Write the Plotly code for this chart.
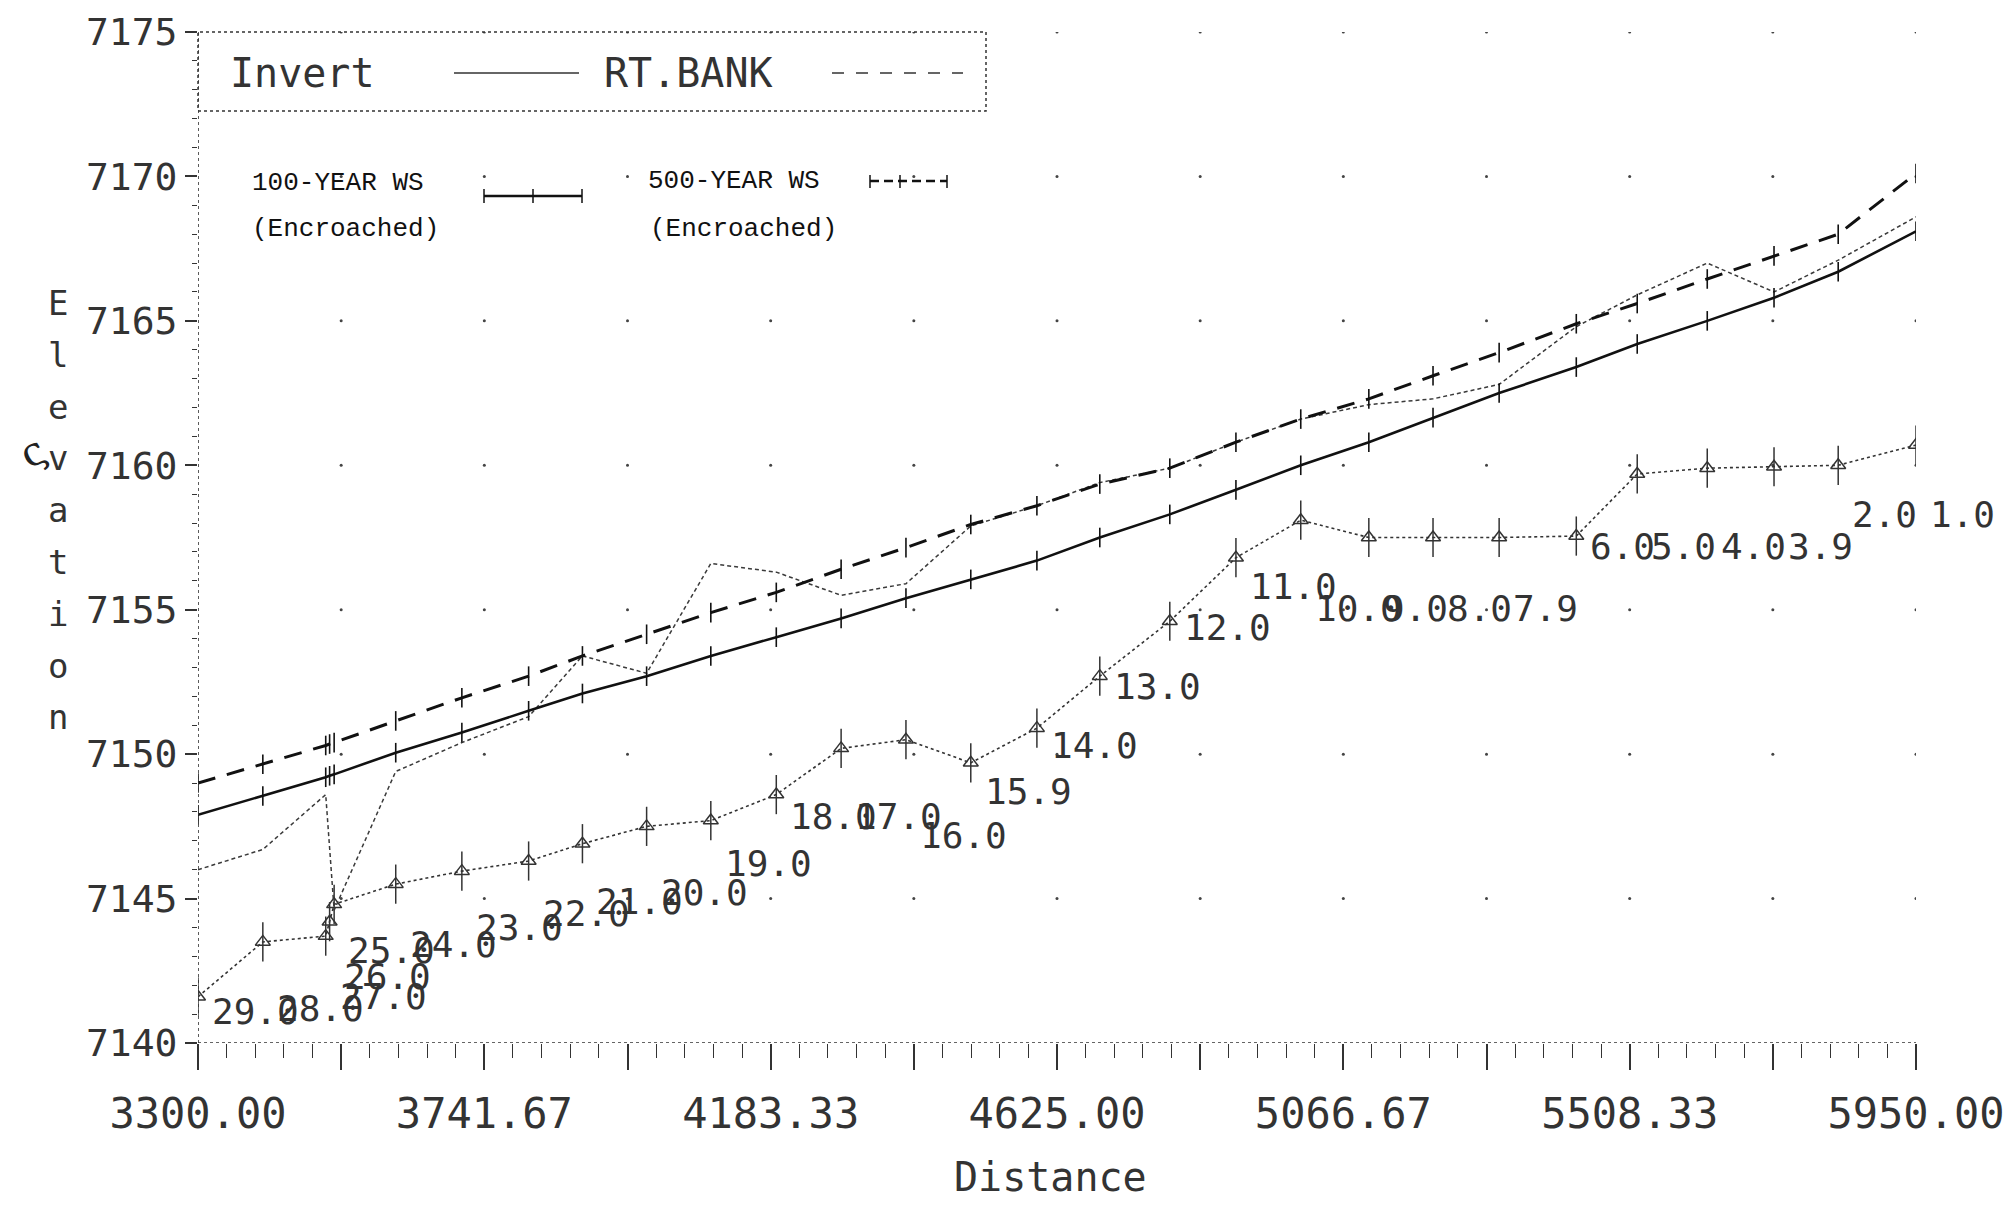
import numpy as np
import plotly.graph_objects as go

# ---- section data (stations in ft, elevations in ft) ----
stations = [3300, 3400, 3497, 3503, 3510, 3605, 3707, 3810, 3893, 3992,
            4091, 4192, 4292, 4392, 4492, 4594, 4691, 4799, 4901, 5001,
            5106, 5205, 5307, 5426, 5520, 5628, 5731, 5830, 5950]
section_ids = ["29.0", "28.0", "27.0", "26.0", "25.0", "24.0", "23.0", "22.0", "21.0", "20.0",
               "19.0", "18.0", "17.0", "16.0", "15.9", "14.0", "13.0", "12.0", "11.0", "10.0",
               "9.0", "8.0", "7.9", "6.0", "5.0", "4.0", "3.9", "2.0", "1.0"]
invert = [7141.6, 7143.5, 7143.7, 7144.2, 7144.8, 7145.5, 7145.95, 7146.3, 7146.9, 7147.5,
          7147.7, 7148.6, 7150.2, 7150.5, 7149.7, 7150.9, 7152.7, 7154.6, 7156.8, 7158.1,
          7157.5, 7157.5, 7157.5, 7157.55, 7159.7, 7159.9, 7159.95, 7160.0, 7160.7]
rt_bank = [7146.0, 7146.7, 7148.6, 7146.6, 7144.6, 7149.4, 7150.4, 7151.3, 7153.4, 7152.8,
           7156.6, 7156.3, 7155.5, 7155.9, 7157.9, 7158.6, 7159.4, 7159.9, 7160.8, 7161.6,
           7162.1, 7162.3, 7162.8, 7164.8, 7165.9, 7167.0, 7166.0, 7167.1, 7168.6]
ws_100yr = [7147.9, 7148.55, 7149.2, 7149.25, 7149.3, 7150.05, 7150.75, 7151.5, 7152.1, 7152.7,
            7153.4, 7154.05, 7154.7, 7155.4, 7156.05, 7156.7, 7157.5, 7158.3, 7159.15, 7160.0,
            7160.8, 7161.65, 7162.5, 7163.4, 7164.2, 7165.0, 7165.8, 7166.7, 7168.1]
ws_500yr = [7149.0, 7149.65, 7150.3, 7150.35, 7150.4, 7151.15, 7151.95, 7152.7, 7153.4, 7154.15,
            7154.9, 7155.6, 7156.4, 7157.15, 7157.95, 7158.6, 7159.35, 7159.9, 7160.8, 7161.6,
            7162.3, 7163.1, 7163.9, 7164.9, 7165.6, 7166.45, 7167.25, 7168.0, 7170.1]
# elevation at which each section number is printed
tag_elev = [7141.1, 7141.2, 7141.6, 7142.3, 7143.2, 7143.4, 7144.0, 7144.5, 7144.9, 7145.2,
            7146.2, 7147.85, 7147.85, 7147.2, 7148.7, 7150.3, 7152.35, 7154.4, 7155.8, 7155.05,
            7155.05, 7155.05, 7155.05, 7157.2, 7157.2, 7157.2, 7157.2, 7158.3, 7158.3]

x_labels = ["3300.00", "3741.67", "4183.33", "4625.00", "5066.67", "5508.33", "5950.00"]
y_ticks = [7140, 7145, 7150, 7155, 7160, 7165, 7170, 7175]

X0, X1 = 3300, 5950
Y0, Y1 = 7140, 7175

# ---- canvas geometry ----
W, H = 2007, 1206
L, R, T, B = 198, 91, 32, 163
PW, PH = W - L - R, H - T - B


def px(x):
    return (x - L) / PW


def py(y):
    return (H - B - y) / PH


MONO = "DejaVu Sans Mono"
TYPE = "Liberation Mono"
INK = "#333"

fig = go.Figure()

# grid dots at major tick intersections
major_x = np.linspace(X0, X1, 13)
gx, gy = np.meshgrid(major_x[1:], np.array(y_ticks[1:]))
fig.add_trace(go.Scatter(x=gx.ravel(), y=gy.ravel(), mode="markers",
                         marker=dict(size=3, color="#444"), hoverinfo="skip",
                         showlegend=False))

# invert (channel bottom)
fig.add_trace(go.Scatter(x=stations, y=invert, mode="lines",
                         line=dict(color=INK, width=1.6, dash="dot"),
                         showlegend=False))
# section markers on the invert
fig.add_trace(go.Scatter(x=stations, y=invert, mode="markers",
                         marker=dict(symbol="triangle-up-open", size=13, color=INK,
                                     line=dict(color=INK, width=1.5)),
                         showlegend=False))
fig.add_trace(go.Scatter(x=stations, y=invert, mode="markers",
                         marker=dict(symbol="line-ns", size=28, color=INK,
                                     line=dict(color=INK, width=1.5)),
                         showlegend=False))

# right bank
fig.add_trace(go.Scatter(x=stations, y=rt_bank, mode="lines",
                         line=dict(color="#3a3a3a", width=1.5, dash="4px,3px"),
                         showlegend=False))

# 100-year water surface
fig.add_trace(go.Scatter(x=stations, y=ws_100yr, mode="lines+markers",
                         line=dict(color="#111", width=2.6),
                         marker=dict(symbol="line-ns", size=14, color="#111",
                                     line=dict(color="#111", width=1.6)),
                         showlegend=False))

# 500-year water surface
fig.add_trace(go.Scatter(x=stations, y=ws_500yr, mode="lines+markers",
                         line=dict(color="#111", width=3, dash="18px,12px"),
                         marker=dict(symbol="line-ns", size=14, color="#111",
                                     line=dict(color="#111", width=1.6)),
                         showlegend=False))

annotations = []

# section numbers
for s, lab, e in zip(stations, section_ids, tag_elev):
    annotations.append(dict(x=s, y=e, text=lab, showarrow=False, xanchor="left",
                            yanchor="middle", xshift=12,
                            font=dict(family=MONO, size=36, color=INK)))

annotations.append(dict(x=X0, y=7139.35, text="87.0", showarrow=False, xanchor="center",
                        yanchor="middle", font=dict(family=MONO, size=38, color=INK)))

# vertical axis title, one letter per line
for i, ch in enumerate("Elevation"):
    annotations.append(dict(x=px(58), y=py(303 + i * 51.8), xref="paper", yref="paper",
                            text=ch, showarrow=False, xanchor="center", yanchor="middle",
                            font=dict(family=MONO, size=34, color=INK)))
annotations.append(dict(x=px(8), y=py(452), xref="paper", yref="paper", text="ς",
                        showarrow=False, font=dict(family="DejaVu Serif", size=40, color="#222"),
                        textangle=-30))

# horizontal axis title
annotations.append(dict(x=px(1050), y=py(1177), xref="paper", yref="paper", text="Distance",
                        showarrow=False, xanchor="center", yanchor="middle",
                        font=dict(family=MONO, size=40, color=INK)))

# boxed legend
annotations.append(dict(x=px(228), y=py(73), xref="paper", yref="paper", text="Invert",
                        showarrow=False, xanchor="left", yanchor="middle",
                        font=dict(family=MONO, size=40, color=INK)))
annotations.append(dict(x=px(602), y=py(73), xref="paper", yref="paper", text="RT.BANK",
                        showarrow=False, xanchor="left", yanchor="middle",
                        font=dict(family=MONO, size=40, color=INK)))

# water surface legend
for txt, x, y in [("100-YEAR WS", 250, 183), ("(Encroached)", 250, 229),
                  ("500-YEAR WS", 646, 181), ("(Encroached)", 648, 229)]:
    annotations.append(dict(x=px(x), y=py(y), xref="paper", yref="paper", text=txt,
                            showarrow=False, xanchor="left", yanchor="middle",
                            font=dict(family=TYPE, size=26, color="#111")))

shapes = []
# legend box
shapes.append(dict(type="rect", xref="paper", yref="paper", x0=px(198), x1=px(986),
                   y0=py(111), y1=py(32), line=dict(color=INK, width=1.5, dash="dot")))
shapes.append(dict(type="line", xref="paper", yref="paper", x0=px(454), x1=px(579),
                   y0=py(73), y1=py(73), line=dict(color=INK, width=1.5)))
shapes.append(dict(type="line", xref="paper", yref="paper", x0=px(832), x1=px(963),
                   y0=py(73), y1=py(73), line=dict(color=INK, width=1.5, dash="12px,12px")))
# 100-year sample
shapes.append(dict(type="line", xref="paper", yref="paper", x0=px(484), x1=px(582),
                   y0=py(196), y1=py(196), line=dict(color="#111", width=2.4)))
for tx in (484, 533, 582):
    shapes.append(dict(type="line", xref="paper", yref="paper", x0=px(tx), x1=px(tx),
                       y0=py(189), y1=py(203), line=dict(color="#111", width=1.5)))
# 500-year sample
shapes.append(dict(type="line", xref="paper", yref="paper", x0=px(870), x1=px(947),
                   y0=py(181), y1=py(181), line=dict(color="#111", width=2.4, dash="9px,5px")))
for tx in (870, 900, 947):
    shapes.append(dict(type="line", xref="paper", yref="paper", x0=px(tx), x1=px(tx),
                       y0=py(175), y1=py(188), line=dict(color="#111", width=1.5)))

# axis lines
shapes.append(dict(type="line", xref="x", yref="y", x0=X0, x1=X0, y0=Y0, y1=Y1,
                   line=dict(color=INK, width=1.6, dash="dot")))
shapes.append(dict(type="line", xref="x", yref="y", x0=X0, x1=X1, y0=Y0, y1=Y0,
                   line=dict(color=INK, width=1.6, dash="dot")))

# x ticks: long ticks every 220.83 ft, labelled every 441.67 ft
x_major = [round(v, 2) for v in np.linspace(X0, X1, 13)]
x_text = [x_labels[i // 2] if i % 2 == 0 else "" for i in range(13)]

fig.update_layout(
    width=W, height=H,
    margin=dict(l=L, r=R, t=T, b=B, pad=0, autoexpand=False),
    paper_bgcolor="white", plot_bgcolor="white",
    showlegend=False,
    annotations=annotations,
    shapes=shapes,
    xaxis=dict(range=[X0, X1], showgrid=False, zeroline=False, showline=False,
               automargin=False,
               tickvals=x_major, ticktext=x_text, ticks="outside", ticklen=26,
               tickwidth=1.5, tickcolor=INK, ticklabelstandoff=8,
               ticklabeloverflow="allow",
               tickfont=dict(family=MONO, size=42, color=INK),
               minor=dict(tick0=X0, dtick=(X1 - X0) / 60, ticks="outside", ticklen=14,
                          tickwidth=1.2, tickcolor=INK)),
    yaxis=dict(range=[Y0, Y1], showgrid=False, zeroline=False, showline=False,
               automargin=False,
               tickvals=y_ticks, ticktext=[str(v) for v in y_ticks], ticks="outside",
               ticklen=12, tickwidth=1.5, tickcolor=INK,
               tickfont=dict(family=MONO, size=38, color=INK),
               minor=dict(tick0=Y0, dtick=1, ticks="outside", ticklen=5,
                          tickwidth=1.2, tickcolor=INK)),
)

fig.write_html("out.html")
